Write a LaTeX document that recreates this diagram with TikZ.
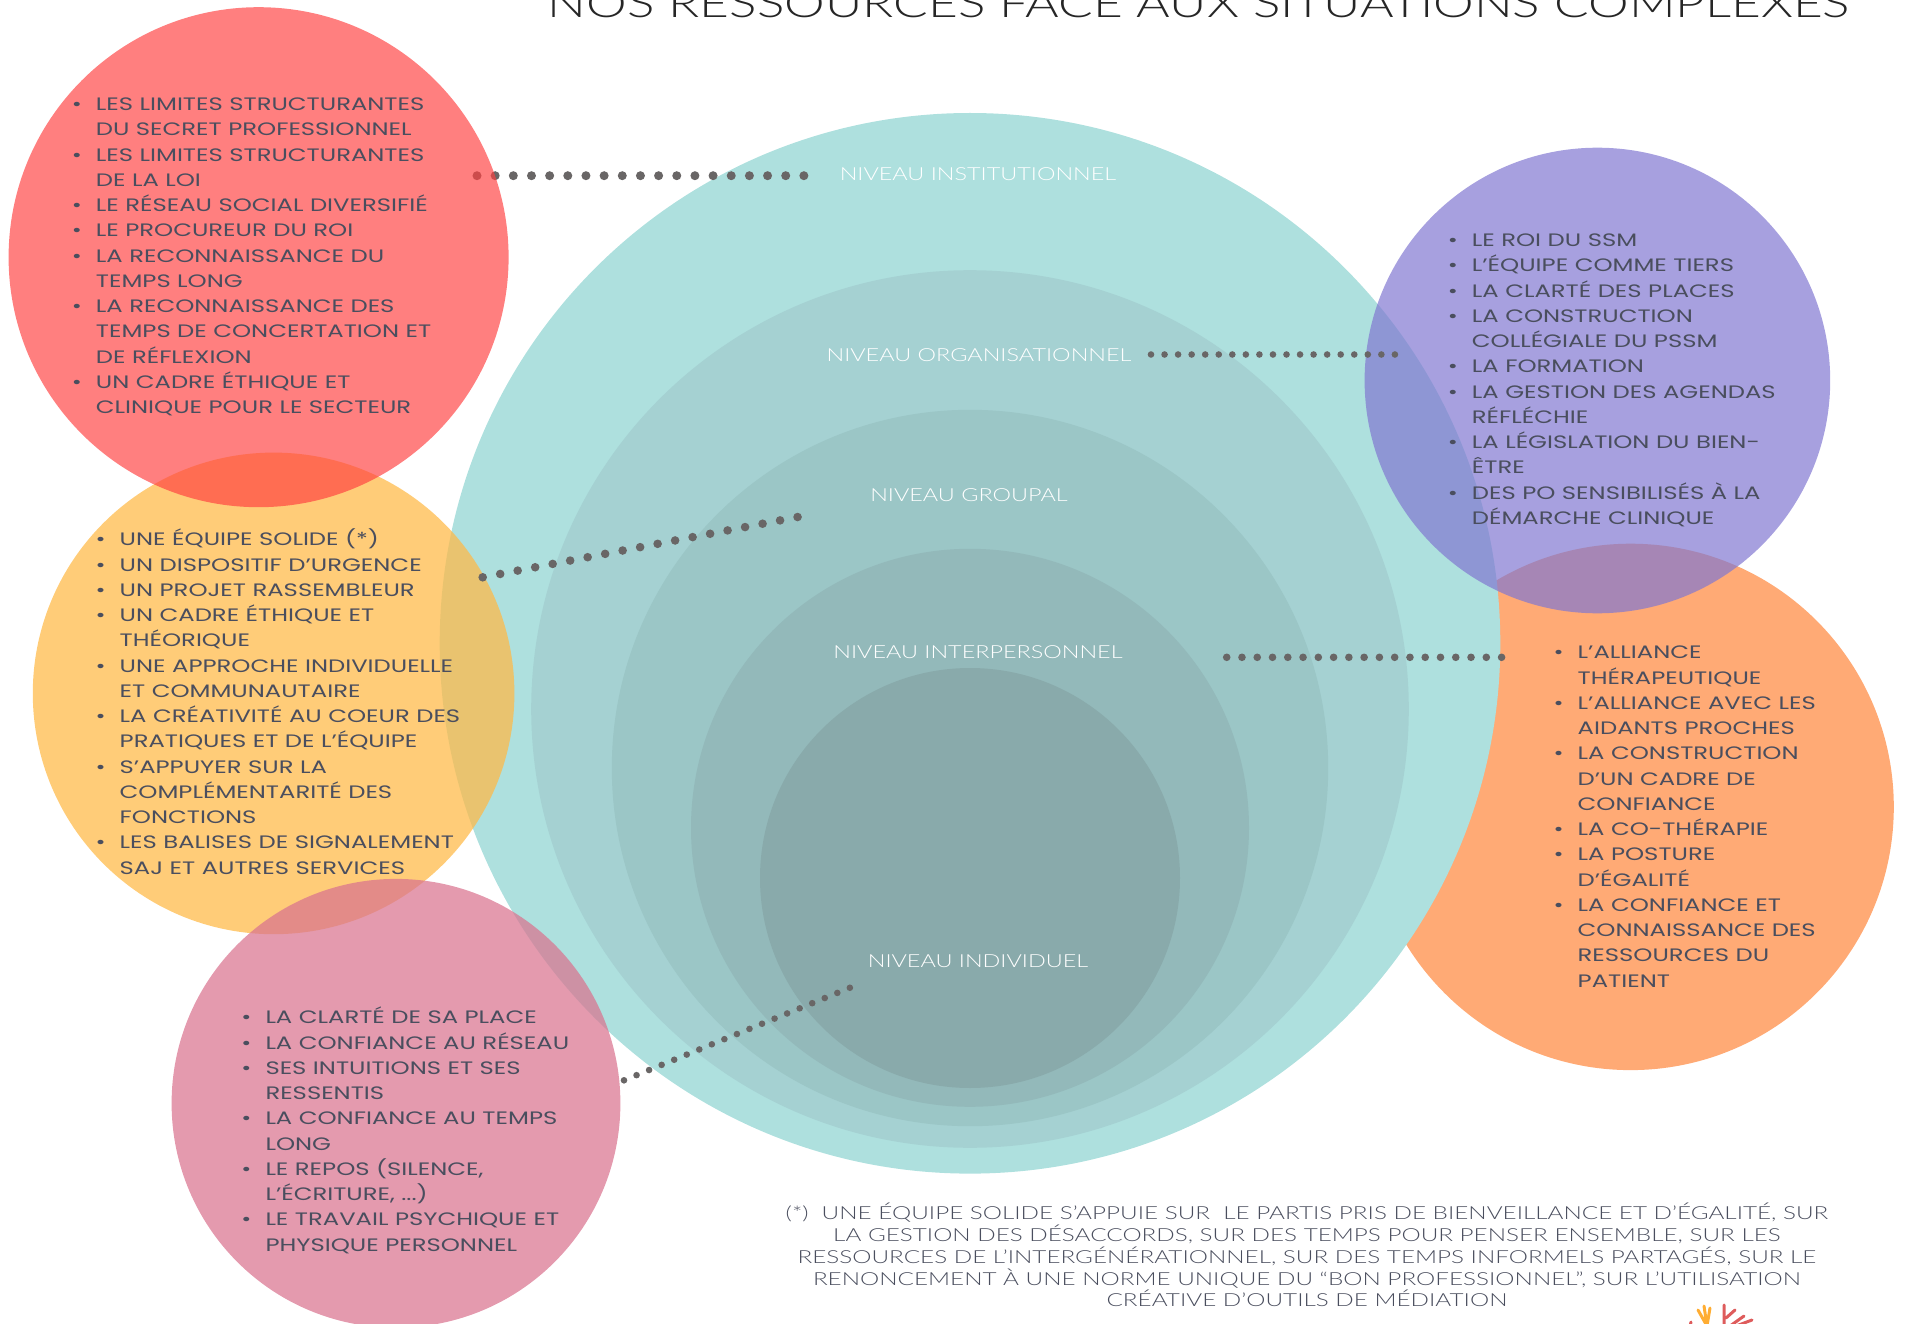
\documentclass[tikz,border=0pt]{standalone}
\usepackage{fontspec}
\newfontfamily\bodyf[FakeStretch=1.35]{Poppins}
\newfontfamily\thinf[FakeStretch=1.3]{Lato Light}
\newfontfamily\notef[FakeStretch=1.348]{Lato Light}
\newcommand{\bl}{\leavevmode\llap{•\hskip 14pt}}
\newcommand{\fl}{\rule{0pt}{20pt}}
\definecolor{cOrange}{HTML}{FFAA75}
\definecolor{cT1}{HTML}{AEE0DE}
\definecolor{cT2}{HTML}{A5D1D2}
\definecolor{cT3}{HTML}{9BC6C6}
\definecolor{cT4}{HTML}{93B9BA}
\definecolor{cT5}{HTML}{89AAAB}
\definecolor{cPurple}{HTML}{8178D1}
\definecolor{cYellow}{HTML}{FFB946}
\definecolor{cPink}{HTML}{D9738F}
\definecolor{cRed}{HTML}{FF4040}
\definecolor{cText}{HTML}{4A4E5E}
\definecolor{cDot}{HTML}{696666}
\tikzset{
  disc/.style={circle,minimum size=#1,inner sep=0pt,outer sep=0pt},
  listtext/.style={anchor=north west,inner sep=0pt,align=left,text=cText,
    font=\bodyf\fontsize{18}{25.25}\selectfont},
  level/.style={inner sep=0pt,text=white,font=\thinf\fontsize{18}{22}\selectfont},
  dotline/.style n args={2}{draw=cDot,line width=#1,line cap=round,dash pattern=on 0pt off #2}
}
\begin{document}
\begin{tikzpicture}[x=1pt,y=-1pt]
\useasboundingbox (0,0) rectangle (1907,1324);
% base circles
\node[disc=526.4pt,fill=cOrange] (orange) at (1630.6,806.9) {};
\node[disc=1060.6pt,fill=cT1] (t1) at (970,643.3) {};
\node[disc=877.6pt,fill=cT2] (t2) at (970,709) {};
\node[disc=716.4pt,fill=cT3] (t3) at (970,768) {};
\node[disc=558pt,fill=cT4] (t4) at (970,827.8) {};
\node[disc=420pt,fill=cT5] (t5) at (970,878) {};
\node[disc=481.6pt,fill=cYellow,fill opacity=.73] (yellow) at (273.6,693.4) {};
\node[disc=448.8pt,fill=cPink,fill opacity=.72] (pink) at (396,1103.3) {};
\node[disc=465.6pt,fill=cPurple,fill opacity=.7] (purple) at (1597.4,380.5) {};
% connector ends
\coordinate (d1a) at (477,175.7); \coordinate (d1b) at (804,175.7);
\coordinate (d2a) at (1151,354.5); \coordinate (d2b) at (1395,354.5);
\coordinate (d3a) at (482.7,577.3); \coordinate (d3b) at (797.7,517);
\coordinate (d4a) at (1226.7,657.3); \coordinate (d4b) at (1501.7,657.3);
\coordinate (d5a) at (624,1080.3); \coordinate (d5b) at (850,987.7);
\draw[dotline={9pt}{18.16pt}] (d1a) -- (d1b);
\draw[dotline={6.6pt}{13.55pt}] (d2a) -- (d2b);
\draw[dotline={8.6pt}{17.81pt}] (d3a) -- (d3b);
\draw[dotline={7.6pt}{15.27pt}] (d4a) -- (d4b);
\draw[dotline={6.6pt}{13.56pt}] (d5a) -- (d5b);
\node[disc=500pt,fill=cRed,fill opacity=.67] (red) at (258.6,257.2) {};
% title
\node[inner sep=0pt,anchor=base,text=black!85,font=\thinf\fontsize{39.5}{44}\selectfont] (title) at (1199,18) {NOS RESSOURCES FACE AUX SITUATIONS COMPLEXES};
% levels
\node[level] (l1) at (978,174) {NIVEAU INSTITUTIONNEL};
\node[level] (l2) at (979,355) {NIVEAU ORGANISATIONNEL};
\node[level] (l3) at (969,495) {NIVEAU GROUPAL};
\node[level] (l4) at (978,652) {NIVEAU INTERPERSONNEL};
\node[level] (l5) at (978,961) {NIVEAU INDIVIDUEL};
% lists
\node[listtext] (redlist) at (95.7,90.4) {\fl\bl LES LIMITES STRUCTURANTES\\
DU SECRET PROFESSIONNEL\\
\bl LES LIMITES STRUCTURANTES\\
DE LA LOI\\
\bl LE RÉSEAU SOCIAL DIVERSIFIÉ\\
\bl LE PROCUREUR DU ROI\\
\bl LA RECONNAISSANCE DU\\
TEMPS LONG\\
\bl LA RECONNAISSANCE DES\\
TEMPS DE CONCERTATION ET\\
DE RÉFLEXION\\
\bl UN CADRE ÉTHIQUE ET\\
CLINIQUE POUR LE SECTEUR};
\node[listtext] (yellowlist) at (119.5,525.6) {\fl\bl UNE ÉQUIPE SOLIDE (*)\\
\bl UN DISPOSITIF D’URGENCE\\
\bl UN PROJET RASSEMBLEUR\\
\bl UN CADRE ÉTHIQUE ET\\
THÉORIQUE\\
\bl UNE APPROCHE INDIVIDUELLE\\
ET COMMUNAUTAIRE\\
\bl LA CRÉATIVITÉ AU COEUR DES\\
PRATIQUES ET DE L’ÉQUIPE\\
\bl S’APPUYER SUR LA\\
COMPLÉMENTARITÉ DES\\
FONCTIONS\\
\bl LES BALISES DE SIGNALEMENT\\
SAJ ET AUTRES SERVICES};
\node[listtext] (pinklist) at (265.3,1003.6) {\fl\bl LA CLARTÉ DE SA PLACE\\
\bl LA CONFIANCE AU RÉSEAU\\
\bl SES INTUITIONS ET SES\\
RESSENTIS\\
\bl LA CONFIANCE AU TEMPS\\
LONG\\
\bl LE REPOS (SILENCE,\\
L’ÉCRITURE, ...)\\
\bl LE TRAVAIL PSYCHIQUE ET\\
PHYSIQUE PERSONNEL};
\node[listtext] (purplelist) at (1471.7,226.4) {\fl\bl LE ROI DU SSM\\
\bl L’ÉQUIPE COMME TIERS\\
\bl LA CLARTÉ DES PLACES\\
\bl LA CONSTRUCTION\\
COLLÉGIALE DU PSSM\\
\bl LA FORMATION\\
\bl LA GESTION DES AGENDAS\\
RÉFLÉCHIE\\
\bl LA LÉGISLATION DU BIEN-\\
ÊTRE\\
\bl DES PO SENSIBILISÉS À LA\\
DÉMARCHE CLINIQUE};
\node[listtext] (orangelist) at (1577.5,638.6) {\fl\bl L’ALLIANCE\\
THÉRAPEUTIQUE\\
\bl L’ALLIANCE AVEC LES\\
AIDANTS PROCHES\\
\bl LA CONSTRUCTION\\
D’UN CADRE DE\\
CONFIANCE\\
\bl LA CO-THÉRAPIE\\
\bl LA POSTURE\\
D’ÉGALITÉ\\
\bl LA CONFIANCE ET\\
CONNAISSANCE DES\\
RESSOURCES DU\\
PATIENT};
% footnote
\node[anchor=north,inner sep=0pt,align=center,text=cText,font=\notef\fontsize{18}{21.8}\selectfont] (note) at (1307,1199.5) {\fl(*)\ \ UNE ÉQUIPE SOLIDE S’APPUIE SUR\ \ LE PARTIS PRIS DE BIENVEILLANCE ET D’ÉGALITÉ, SUR\\
LA GESTION DES DÉSACCORDS, SUR DES TEMPS POUR PENSER ENSEMBLE, SUR LES\\
RESSOURCES DE L’INTERGÉNÉRATIONNEL, SUR DES TEMPS INFORMELS PARTAGÉS, SUR LE\\
RENONCEMENT À UNE NORME UNIQUE DU “BON PROFESSIONNEL”, SUR L’UTILISATION\\
CRÉATIVE D’OUTILS DE MÉDIATION};
% logo fragment
\begin{scope}[line cap=round,line width=3pt,opacity=.8]
\draw[draw=orange!80!yellow] (1707,1326) -- (1698,1310) (1707,1326) -- (1704,1306) (1707,1326) -- (1710,1308);
\draw[draw=red!80!black!80] (1724,1326) -- (1724,1305) (1726,1318) -- (1735,1310) (1730,1326) -- (1744,1316) (1736,1326) -- (1752,1320);
\draw[draw=red!80!black!80] (1690,1326) -- (1691,1322);
\end{scope}
\end{tikzpicture}
\end{document}
